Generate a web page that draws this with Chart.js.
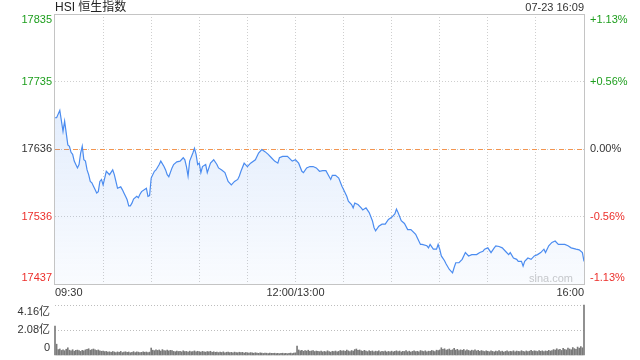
<!DOCTYPE html>
<html>
<head>
<meta charset="utf-8">
<script src="https://cdn.jsdelivr.net/npm/chart.js@4.4.1/dist/chart.umd.min.js"></script>
<style>
  html, body { margin: 0; padding: 0; background: #fff; }
  #wrap { position: relative; width: 640px; height: 360px; }
  canvas { position: absolute; left: 0; }
  #price { top: 0; }
  #vol { top: 300px; }
</style>
</head>
<body>
<div id="wrap">
  <canvas id="price" width="640" height="300"></canvas>
  <canvas id="vol" width="640" height="60"></canvas>
</div>
<script>
/* ====== HSI 恒生指数 - intraday (Chart.js) ====== */
const titleText = 'HSI 恒生指数';
const stampText = '07-23 16:09';
const prevClose = 17635.88;

// minutes since 09:30 (lunch break skipped: 150 = 12:00/13:00)
const priceMins = [0, 1, 3, 5, 6, 8, 9, 10, 11, 12,
  13, 14, 15, 16, 17, 18, 19, 20, 21, 22,
  23, 24, 25, 26, 27, 28, 29, 30, 31, 32,
  34, 36, 37, 38, 39, 41, 42, 43, 44, 45,
  46, 47, 48, 49, 51, 52, 53, 54, 57, 58,
  59, 60, 62, 63, 65, 66, 68, 69, 70, 71,
  73, 74, 76, 78, 80, 81, 82, 83, 84, 86,
  87, 88, 89, 90, 91, 92, 94, 95, 97, 99,
  101, 102, 104, 106, 108, 110, 112, 114, 115, 116,
  118, 120, 122, 125, 127, 129, 131, 133, 135, 137,
  139, 140, 142, 145, 148, 150, 152, 154, 155, 157,
  159, 161, 163, 165, 167, 169, 172, 173, 175, 177,
  179, 180, 182, 183, 185, 186, 187, 189, 191, 192,
  194, 196, 198, 199, 200, 202, 204, 206, 208, 210,
  212, 213, 214, 216, 218, 220, 222, 225, 226, 228,
  229, 232, 233, 234, 236, 238, 239, 240, 241, 243,
  244, 246, 248, 249, 250, 252, 254, 256, 258, 260,
  263, 265, 267, 268, 270, 272, 274, 275, 277, 279,
  281, 283, 284, 286, 288, 289, 291, 292, 293, 295,
  297, 299, 301, 303, 305, 306, 308, 310, 312, 314,
  316, 318, 320, 322, 325, 327, 329, 330];

const prices = [17682, 17682, 17693, 17662, 17677, 17642, 17640, 17631, 17628, 17618,
  17613, 17608, 17613, 17630, 17640, 17620, 17618, 17605, 17598, 17588,
  17586, 17581, 17576, 17571, 17573, 17588, 17591, 17583, 17593, 17603,
  17598, 17605, 17598, 17588, 17578, 17580, 17576, 17571, 17566, 17561,
  17552, 17552, 17556, 17562, 17566, 17564, 17569, 17573, 17578, 17566,
  17567, 17593, 17603, 17605, 17613, 17618, 17610, 17605, 17598, 17595,
  17608, 17613, 17617, 17618, 17623, 17620, 17610, 17596, 17618, 17630,
  17637, 17628, 17613, 17615, 17601, 17610, 17613, 17601, 17615, 17620,
  17613, 17608, 17605, 17601, 17588, 17583, 17588, 17591, 17596, 17603,
  17615, 17610, 17615, 17620, 17630, 17635, 17632, 17628, 17623, 17618,
  17615, 17623, 17625, 17625, 17618, 17620, 17615, 17603, 17601, 17608,
  17610, 17610, 17608, 17603, 17604, 17604, 17591, 17597, 17597, 17593,
  17581, 17576, 17566, 17559, 17554, 17549, 17556, 17554, 17549, 17546,
  17549, 17542, 17530, 17520, 17515, 17522, 17525, 17525, 17532, 17535,
  17540, 17547, 17542, 17530, 17526, 17517, 17517, 17510, 17505, 17495,
  17495, 17493, 17490, 17495, 17488, 17488, 17495, 17488, 17478, 17471,
  17466, 17458, 17453, 17461, 17468, 17468, 17473, 17483, 17478, 17480,
  17480, 17483, 17485, 17488, 17490, 17483, 17490, 17493, 17492, 17490,
  17485, 17480, 17483, 17475, 17473, 17470, 17470, 17463, 17470, 17475,
  17473, 17478, 17480, 17483, 17488, 17483, 17493, 17498, 17500, 17495,
  17495, 17495, 17493, 17490, 17488, 17487, 17483, 17470];

// 成交额 per minute, 亿 (last bar = closing auction)
const volumes = [
  2.40, 0.90, 0.45, 0.50, 0.38, 0.42, 0.36, 0.48, 0.60, 0.40, 0.35, 0.44, 0.32, 0.38, 0.41, 0.36, 0.30, 0.39, 0.34, 0.43, 0.48, 0.52, 0.40, 0.46, 0.50, 0.44, 0.38, 0.42, 0.35, 0.31,
  0.33, 0.28, 0.30, 0.24, 0.27, 0.22, 0.29, 0.25, 0.21, 0.26, 0.23, 0.30, 0.20, 0.24, 0.27, 0.22, 0.25, 0.19, 0.23, 0.28, 0.21, 0.26, 0.24, 0.20, 0.22, 0.27, 0.23, 0.25, 0.21, 0.24,
  0.58, 0.40, 0.36, 0.44, 0.38, 0.42, 0.33, 0.45, 0.37, 0.35, 0.41, 0.34, 0.39, 0.36, 0.30, 0.27, 0.33, 0.29, 0.31, 0.26, 0.35, 0.28, 0.30, 0.25, 0.32, 0.27, 0.29, 0.34, 0.26, 0.31,
  0.28, 0.25, 0.30, 0.27, 0.24, 0.29, 0.26, 0.31, 0.23, 0.27, 0.22, 0.25, 0.20, 0.24, 0.21, 0.26, 0.19, 0.23, 0.25, 0.20, 0.22, 0.18, 0.24, 0.21, 0.19, 0.23, 0.20, 0.22, 0.17, 0.21,
  0.19, 0.16, 0.20, 0.18, 0.15, 0.19, 0.17, 0.14, 0.18, 0.16, 0.13, 0.17, 0.15, 0.12, 0.16, 0.14, 0.13, 0.15, 0.12, 0.14, 0.11, 0.13, 0.15, 0.12, 0.14, 0.11, 0.13, 0.16, 0.12, 0.15,
  0.18, 0.75, 0.42, 0.35, 0.38, 0.31, 0.36, 0.33, 0.40, 0.30, 0.34, 0.37, 0.29, 0.33, 0.31, 0.28, 0.32, 0.26, 0.30, 0.27, 0.35, 0.29, 0.24, 0.31, 0.28, 0.33, 0.26, 0.30, 0.38, 0.32,
  0.36, 0.30, 0.41, 0.34, 0.29, 0.37, 0.33, 0.45, 0.50, 0.38, 0.42, 0.35, 0.31, 0.39, 0.33, 0.28, 0.36, 0.30, 0.34, 0.27, 0.32, 0.29, 0.35, 0.26, 0.31, 0.28, 0.33, 0.25, 0.30, 0.27,
  0.32, 0.26, 0.30, 0.35, 0.28, 0.33, 0.25, 0.31, 0.29, 0.36, 0.27, 0.32, 0.24, 0.30, 0.34, 0.28, 0.31, 0.26, 0.37, 0.33, 0.29, 0.35, 0.27, 0.32, 0.30, 0.38, 0.34, 0.29, 0.40, 0.36,
  0.42, 0.60, 0.48, 0.52, 0.40, 0.45, 0.50, 0.38, 0.44, 0.55, 0.41, 0.47, 0.36, 0.43, 0.39, 0.46, 0.35, 0.42, 0.38, 0.33, 0.40, 0.36, 0.44, 0.34, 0.39, 0.31, 0.37, 0.33, 0.29, 0.35,
  0.31, 0.27, 0.34, 0.30, 0.26, 0.33, 0.29, 0.36, 0.28, 0.32, 0.25, 0.30, 0.34, 0.27, 0.31, 0.29, 0.35, 0.26, 0.33, 0.30, 0.28, 0.36, 0.31, 0.27, 0.34, 0.29, 0.32, 0.38, 0.30, 0.35,
  0.33, 0.29, 0.37, 0.31, 0.35, 0.28, 0.34, 0.30, 0.39, 0.33, 0.36, 0.45, 0.40, 0.52, 0.43, 0.48, 0.38, 0.55, 0.46, 0.42, 0.58, 0.50, 0.44, 0.62, 0.53, 0.48, 0.66, 0.57, 0.70, 0.60,
  4.16];

const priceTicks = [17835, 17735, 17636, 17536, 17437];
const pctLabels = ['+1.13%', '+0.56%', '0.00%', '-0.56%', '-1.13%'];
const timeTicks = [0, 150, 330];
const timeLabels = ['09:30', '12:00/13:00', '16:00'];
const volTicks = [4.16, 2.08, 0];
const volLabels = ['4.16亿', '2.08亿', '0'];

const FONT = '"Liberation Sans", Arial, "Noto Sans CJK SC", sans-serif';
const GREEN = '#1d9e1d';
const RED = '#ec2f2b';
const DARK = '#333';
const GRID = '#cfcfcf';

const tickColor = (i, n) => i < (n - 1) / 2 ? GREEN : (i > (n - 1) / 2 ? RED : DARK);
// keep edge labels inside the frame
const clampY = (y, a, pad) => Math.min(Math.max(y, a.top + pad), a.bottom - pad);

const hLine = (ctx, x1, x2, y) => {
  ctx.beginPath();
  ctx.moveTo(x1, y);
  ctx.lineTo(x2, y);
  ctx.stroke();
};

const priceDecor = {
  id: 'priceDecor',
  beforeDatasetsDraw(chart) {
    const { ctx, chartArea: a, scales } = chart;
    ctx.save();
    // 昨收 line
    const yc = Math.round(scales.y.getPixelForValue(prevClose)) + 0.5;
    ctx.lineWidth = 1;
    ctx.strokeStyle = '#c8c8c8';
    ctx.setLineDash([1, 2]);
    hLine(ctx, a.left, a.right, yc);
    ctx.strokeStyle = '#f39550';
    ctx.setLineDash([5, 4]);
    hLine(ctx, a.left, a.right, yc);
    ctx.setLineDash([]);
    // watermark
    ctx.font = '11px ' + FONT;
    ctx.fillStyle = '#cacaca';
    ctx.textAlign = 'right';
    ctx.textBaseline = 'middle';
    ctx.fillText('sina.com', a.right - 11, a.bottom - 5);
    ctx.restore();
  },
  afterDraw(chart) {
    const { ctx, chartArea: a, scales } = chart;
    ctx.save();
    ctx.strokeStyle = '#c4c4c4';
    ctx.lineWidth = 1;
    ctx.strokeRect(a.left - 0.5, a.top + 0.5, a.right - a.left + 1, a.bottom - a.top);

    ctx.textBaseline = 'middle';
    ctx.font = '12px ' + FONT;
    ctx.fillStyle = '#222';
    ctx.textAlign = 'left';
    ctx.fillText(titleText, a.left, 8);
    ctx.font = '11px ' + FONT;
    ctx.fillStyle = DARK;
    ctx.textAlign = 'right';
    ctx.fillText(stampText, a.right, 8);

    priceTicks.forEach((v, i) => {
      const y = clampY(scales.y.getPixelForValue(v), a, 6);
      ctx.fillStyle = tickColor(i, priceTicks.length);
      ctx.textAlign = 'right';
      ctx.fillText(String(v), a.left - 3, y);
      ctx.textAlign = 'left';
      ctx.fillText(pctLabels[i], a.right + 6, y);
    });

    ctx.fillStyle = DARK;
    timeTicks.forEach((m, i) => {
      ctx.textAlign = i === 0 ? 'left' : (i === timeTicks.length - 1 ? 'right' : 'center');
      ctx.fillText(timeLabels[i], scales.x.getPixelForValue(m), a.bottom + 9);
    });
    ctx.restore();
  }
};

const volDecor = {
  id: 'volDecor',
  beforeDatasetsDraw(chart) {
    const { ctx, chartArea: a, scales } = chart;
    ctx.save();
    ctx.strokeStyle = '#bdbdbd';
    ctx.lineWidth = 1;
    ctx.setLineDash([1, 2]);
    volTicks.slice(0, 2).forEach(v => {
      hLine(ctx, a.left, a.right, Math.round(scales.y.getPixelForValue(v)) + 0.5);
    });
    ctx.restore();
  },
  afterDraw(chart) {
    const { ctx, chartArea: a, scales } = chart;
    ctx.save();
    ctx.font = '11px ' + FONT;
    ctx.fillStyle = DARK;
    ctx.textAlign = 'right';
    ctx.textBaseline = 'middle';
    volTicks.forEach((v, i) => {
      const y = clampY(scales.y.getPixelForValue(v), a, 7);
      ctx.fillText(volLabels[i], a.left - 5, y);
    });
    ctx.restore();
  }
};

const priceChart = new Chart(document.getElementById('price'), {
  type: 'line',
  data: {
    datasets: [{
      data: prices.map((p, i) => ({ x: priceMins[i], y: p })),
      borderColor: '#4b8cf0',
      borderWidth: 1.2,
      pointRadius: 0,
      tension: 0,
      fill: 'start',
      backgroundColor: c => {
        const { ctx, chartArea } = c.chart;
        if (!chartArea) return 'rgba(75,140,240,0.1)';
        const g = ctx.createLinearGradient(0, chartArea.top, 0, chartArea.bottom);
        g.addColorStop(0, 'rgba(75,140,240,0.22)');
        g.addColorStop(1, 'rgba(75,140,240,0.03)');
        return g;
      }
    }]
  },
  options: {
    responsive: false,
    animation: false,
    layout: { padding: { left: 55, right: 56, top: 14, bottom: 16 } },
    plugins: { legend: { display: false }, tooltip: { enabled: false } },
    scales: {
      x: {
        type: 'linear',
        min: 0,
        max: 330,
        ticks: { display: false, stepSize: 30 },
        grid: { drawTicks: false, color: c => (c.tick && (c.tick.value === 0 || c.tick.value === 330)) ? 'rgba(0,0,0,0)' : GRID },
        border: { display: false, dash: [1, 2] }
      },
      y: {
        min: 17436.6,
        max: 17835.2,
        afterBuildTicks: s => { s.ticks = priceTicks.map(v => ({ value: v })); },
        ticks: { display: false },
        // edges are covered by the frame, the middle one by the 昨收 line
        grid: { drawTicks: false, color: c => (c.index % 2 === 0) ? 'rgba(0,0,0,0)' : GRID },
        border: { display: false, dash: [1, 2] }
      }
    }
  },
  plugins: [priceDecor]
});

const volChart = new Chart(document.getElementById('vol'), {
  type: 'bar',
  data: {
    datasets: [{
      data: volumes.map((v, i) => ({ x: i, y: v })),
      backgroundColor: '#7a7a7a',
      barThickness: 1,
      clip: false
    }]
  },
  options: {
    responsive: false,
    animation: false,
    layout: { padding: { left: 55, right: 56, top: 5, bottom: 5 } },
    plugins: { legend: { display: false }, tooltip: { enabled: false } },
    scales: {
      x: { type: 'linear', min: 0, max: 330, offset: false, display: false },
      y: { min: 0, max: 4.16, display: false }
    }
  },
  plugins: [volDecor]
});
</script>
</body>
</html>
